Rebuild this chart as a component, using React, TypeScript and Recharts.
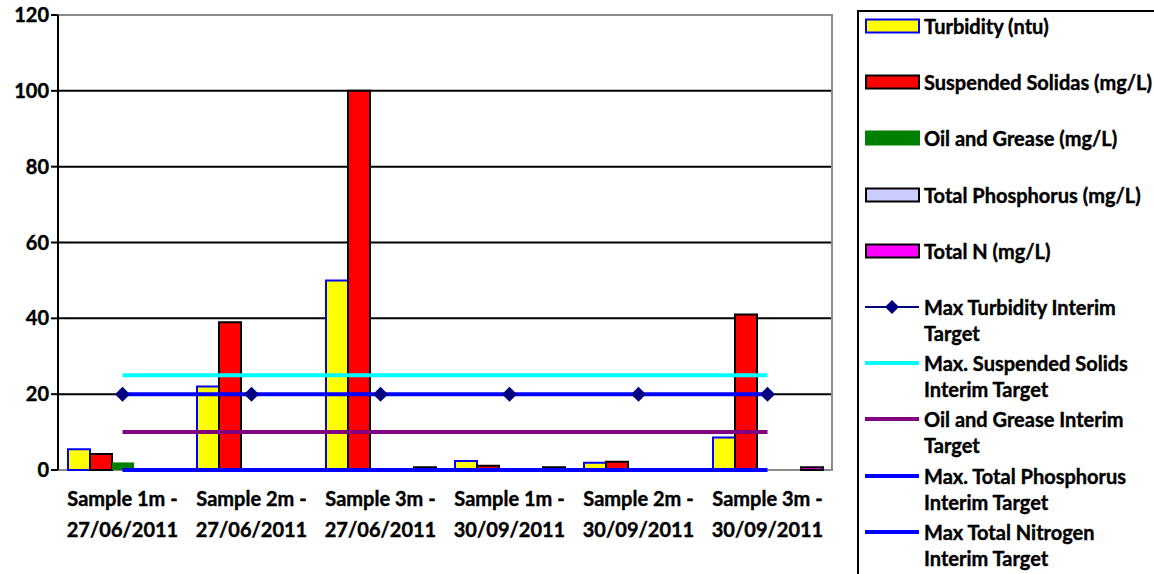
import { ComposedChart, Bar, Line, XAxis, YAxis, CartesianGrid, ReferenceArea } from 'recharts'

const categories = [
  'Sample 1m - 27/06/2011',
  'Sample 2m - 27/06/2011',
  'Sample 3m - 27/06/2011',
  'Sample 1m - 30/09/2011',
  'Sample 2m - 30/09/2011',
  'Sample 3m - 30/09/2011',
]
const turbidity = [5.5, 22, 50, 2.4, 1.9, 8.6]
const suspendedSolids = [4.2, 39, 100, 1.1, 2.2, 41]
const oilGrease = [2, 0, 0, 0, 0, 0]
const totalPhosphorus = [0, 0, 0, 0, 0, 0]
const totalN = [0, 0, 0.7, 0.7, 0, 0.7]
const maxTurbidity = [20, 20, 20, 20, 20, 20]
const maxSuspended = [25, 25, 25, 25, 25, 25]
const maxOilGrease = [10, 10, 10, 10, 10, 10]
const maxPhosphorus = [0, 0, 0, 0, 0, 0]
const maxNitrogen = [20, 20, 20, 20, 20, 20]
const yTicks = [0, 20, 40, 60, 80, 100, 120]

const data = categories.map((name, i) => ({
  name,
  turbidity: turbidity[i],
  ss: suspendedSolids[i],
  og: oilGrease[i],
  tp: totalPhosphorus[i],
  tn: totalN[i],
  maxTurb: maxTurbidity[i],
  maxSS: maxSuspended[i],
  maxOG: maxOilGrease[i],
  maxTP: maxPhosphorus[i],
  maxTN: maxNitrogen[i],
}))

const FONT = 'Lato, "Open Sans", sans-serif'

const legendItems = [
  { label: ['Turbidity (ntu)'], kind: 'bar', fill: '#ffff00', stroke: '#0000ff' },
  { label: ['Suspended Solidas (mg/L)'], kind: 'bar', fill: '#ff0000', stroke: '#000000' },
  { label: ['Oil and Grease (mg/L)'], kind: 'bar', fill: '#008000', stroke: '#008000' },
  { label: ['Total Phosphorus (mg/L)'], kind: 'bar', fill: '#ccccff', stroke: '#000000' },
  { label: ['Total N (mg/L)'], kind: 'bar', fill: '#ff00ff', stroke: '#000000' },
  { label: ['Max Turbidity Interim', 'Target'], kind: 'diamond', stroke: '#000080' },
  { label: ['Max. Suspended Solids', 'Interim Target'], kind: 'line', stroke: '#00ffff' },
  { label: ['Oil and Grease Interim', 'Target'], kind: 'line', stroke: '#800080' },
  { label: ['Max. Total Phosphorus', 'Interim Target'], kind: 'line', stroke: '#0000ff' },
  { label: ['Max Total Nitrogen', 'Interim Target'], kind: 'line', stroke: '#0000ff' },
]

const Diamond = (props: any) => {
  const { cx, cy } = props
  if (cx == null || cy == null) return null
  return <polygon points={`${cx},${cy - 7.5} ${cx + 7.5},${cy} ${cx},${cy + 7.5} ${cx - 7.5},${cy}`} fill="#000080" />
}

const XTick = ({ x, y, payload }: any) => {
  const parts = String(payload.value).split(' - ')
  return (
    <text x={x} y={y} textAnchor="middle" fontFamily={FONT} fontWeight={700} fontSize={20} fill="#000" stroke="#000" strokeWidth={0.4}>
      <tspan x={x} dy={28}>{parts[0] + ' -'}</tspan>
      <tspan x={x} dy={31}>{parts[1]}</tspan>
    </text>
  )
}

function ChartLegend() {
  return (
    <div
      style={{
        position: 'absolute',
        left: 857,
        top: 10,
        width: 320,
        height: 600,
        border: '2px solid #000',
        boxSizing: 'border-box',
        background: '#fff',
        fontFamily: FONT,
        fontWeight: 700,
        fontSize: 20,
        WebkitTextStroke: '0.4px #000',
      }}
    >
      {legendItems.map((it, i) => {
        const cy = 14 + i * 56.2
        return (
          <div key={i} style={{ position: 'absolute', left: 0, top: cy - 13, width: 320 }}>
            <svg width={62} height={26} style={{ position: 'absolute', left: 0, top: 0 }}>
              {it.kind === 'bar' && (
                <rect x={7} y={6.5} width={53} height={13} fill={it.fill} stroke={it.stroke} strokeWidth={2} />
              )}
              {it.kind === 'line' && <line x1={6} x2={60} y1={13} y2={13} stroke={it.stroke} strokeWidth={4} />}
              {it.kind === 'diamond' && (
                <>
                  <line x1={6} x2={60} y1={13} y2={13} stroke={it.stroke} strokeWidth={2} />
                  <polygon points="33,6 40,13 33,20 26,13" fill={it.stroke} />
                </>
              )}
            </svg>
            <div style={{ position: 'absolute', left: 65, top: 0, lineHeight: '26px', whiteSpace: 'nowrap' }}>
              {it.label.map((l, j) => (
                <div key={j}>{l}</div>
              ))}
            </div>
          </div>
        )
      })}
    </div>
  )
}

export default function App() {
  return (
    <div style={{ position: 'relative', width: 1154, height: 574, overflow: 'hidden', background: '#fff' }}>
      <style>{'body{margin:0}'}</style>
      <ComposedChart
        width={1154}
        height={574}
        data={data}
        margin={{ top: 15, right: 322, left: 0, bottom: 0 }}
        barCategoryGap={10}
        barGap={0}
      >
        <CartesianGrid vertical={false} stroke="#000" strokeWidth={2} horizontalValues={[20, 40, 60, 80, 100]} yAxisId="y" xAxisId="cat" />
        <ReferenceArea yAxisId="y" xAxisId="cat" y1={0} y2={120} fill="none" stroke="#8c8c8c" strokeWidth={2} ifOverflow="visible" />
        <XAxis
          xAxisId="edges"
          type="number"
          domain={[0, 6]}
          ticks={[0, 1, 2, 3, 4, 5, 6]}
          tick={false}
          tickLine={{ stroke: '#000', strokeWidth: 2 }}
          tickSize={6}
          axisLine={{ stroke: '#000', strokeWidth: 2 }}
          height={0}
        />
        <XAxis
          xAxisId="cat"
          dataKey="name"
          interval={0}
          tick={<XTick />}
          tickLine={false}
          axisLine={false}
          height={104}
        />
        <YAxis
          yAxisId="y"
          domain={[0, 120]}
          ticks={yTicks}
          width={58}
          tickSize={7}
          axisLine={{ stroke: '#000', strokeWidth: 2 }}
          tickLine={{ stroke: '#000', strokeWidth: 2 }}
          tick={{ fontFamily: FONT, fontWeight: 700, fontSize: 20, fill: '#000', stroke: '#000', strokeWidth: 0.4 }}
        />
        <Bar xAxisId="cat" yAxisId="y" dataKey="turbidity" fill="#ffff00" stroke="#0000ff" strokeWidth={2} isAnimationActive={false} />
        <Bar xAxisId="cat" yAxisId="y" dataKey="ss" fill="#ff0000" stroke="#000" strokeWidth={2} isAnimationActive={false} />
        <Bar xAxisId="cat" yAxisId="y" dataKey="og" fill="#008000" isAnimationActive={false} />
        <Bar xAxisId="cat" yAxisId="y" dataKey="tp" fill="#ccccff" stroke="#000" strokeWidth={2} isAnimationActive={false} />
        <Bar xAxisId="cat" yAxisId="y" dataKey="tn" fill="#ff00ff" stroke="#000" strokeWidth={2} isAnimationActive={false} />
        <Line xAxisId="cat" yAxisId="y" dataKey="maxTurb" stroke="#000080" strokeWidth={2} dot={false} isAnimationActive={false} />
        <Line xAxisId="cat" yAxisId="y" dataKey="maxSS" stroke="#00ffff" strokeWidth={4} dot={false} isAnimationActive={false} />
        <Line xAxisId="cat" yAxisId="y" dataKey="maxOG" stroke="#800080" strokeWidth={4} dot={false} isAnimationActive={false} />
        <Line xAxisId="cat" yAxisId="y" dataKey="maxTP" stroke="#0000ff" strokeWidth={4} dot={false} isAnimationActive={false} />
        <Line xAxisId="cat" yAxisId="y" dataKey="maxTN" stroke="#0000ff" strokeWidth={4} dot={false} isAnimationActive={false} />
        <Line xAxisId="cat" yAxisId="y" dataKey="maxTurb" stroke="none" dot={<Diamond />} activeDot={false} legendType="none" isAnimationActive={false} />
      </ComposedChart>
      <ChartLegend />
    </div>
  )
}
